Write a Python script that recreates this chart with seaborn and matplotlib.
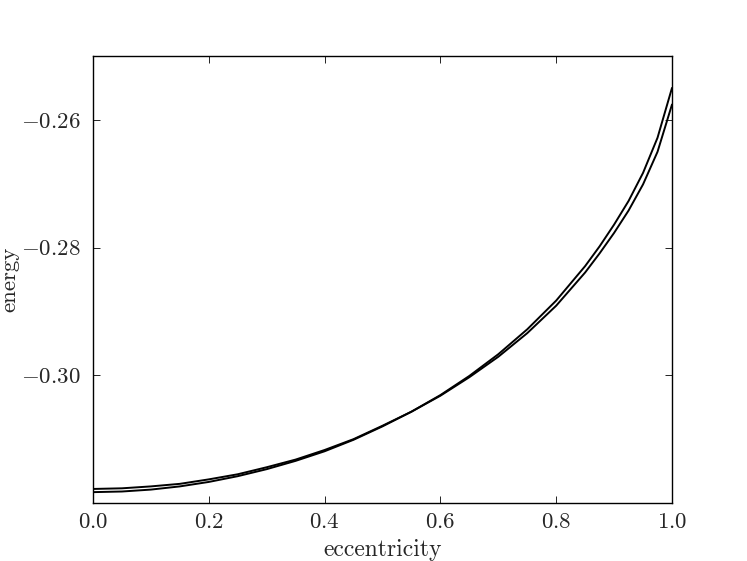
"""
Energy versus eccentricity for the two orbit solutions
"""
import matplotlib
matplotlib.use("Agg")
import matplotlib.pyplot as plt
import seaborn as sns
import pandas as pd

# values
ecc = [0.0, 0.05, 0.10, 0.15, 0.20, 0.25, 0.30, 0.35, 0.40, 0.45, 0.50,
       0.55, 0.60, 0.65, 0.70, 0.75, 0.80, 0.85, 0.875, 0.90, 0.925, 0.95,
       0.975, 1.0]
energy_a = [-0.3178, -0.3177, -0.3174, -0.3170, -0.3163, -0.3155, -0.3144,
            -0.3132, -0.3117, -0.3100, -0.3079, -0.3057, -0.3032, -0.3003,
            -0.2971, -0.2934, -0.2891, -0.2839, -0.2809, -0.2777, -0.2742,
            -0.2701, -0.2650, -0.2576]
energy_b = [-0.3183, -0.3182, -0.3179, -0.3174, -0.3167, -0.3158, -0.3147,
            -0.3134, -0.3119, -0.3101, -0.3080, -0.3057, -0.3031, -0.3001,
            -0.2967, -0.2928, -0.2883, -0.2829, -0.2798, -0.2764, -0.2727,
            -0.2683, -0.2628, -0.2550]

xticks = [0.0, 0.2, 0.4, 0.6, 0.8, 1.0]
yticks = [-0.26, -0.28, -0.30]

df = pd.DataFrame({"eccentricity": ecc, "a": energy_a, "b": energy_b})

sns.set_style("ticks")
plt.rcParams["font.family"] = "cmr10"
plt.rcParams["mathtext.fontset"] = "cm"
plt.rcParams["axes.formatter.use_mathtext"] = True

fig = plt.figure(figsize=(7.47, 5.61), dpi=100)
ax = fig.add_axes([93 / 747, 58 / 561, 579 / 747, 447 / 561])

sns.lineplot(data=df, x="eccentricity", y="a", color="black", linewidth=1.4, ax=ax)
sns.lineplot(data=df, x="eccentricity", y="b", color="black", linewidth=1.4, ax=ax)

ax.set_xlim(0, 1)
ax.set_ylim(-0.32, -0.25)
ax.set_xticks(xticks)
ax.set_yticks(yticks)
ax.set_xticklabels([f"${t:.1f}$" for t in xticks])
ax.set_yticklabels([f"$-{abs(t):.2f}$" for t in yticks])

for side in ["top", "right", "bottom", "left"]:
    ax.spines[side].set_visible(True)
    ax.spines[side].set_linewidth(1.0)
    ax.spines[side].set_color("black")

ax.tick_params(which="major", direction="in", top=True, right=True,
               length=5, width=0.6, color="black", labelsize=16.5)
ax.tick_params(axis="x", pad=7)
ax.tick_params(axis="y", pad=9)

ax.set_xlabel("eccentricity", fontsize=17, labelpad=5)
ax.set_ylabel("energy", fontsize=16.5, labelpad=1)

plt.savefig("out.png", dpi=100)
plt.close()
